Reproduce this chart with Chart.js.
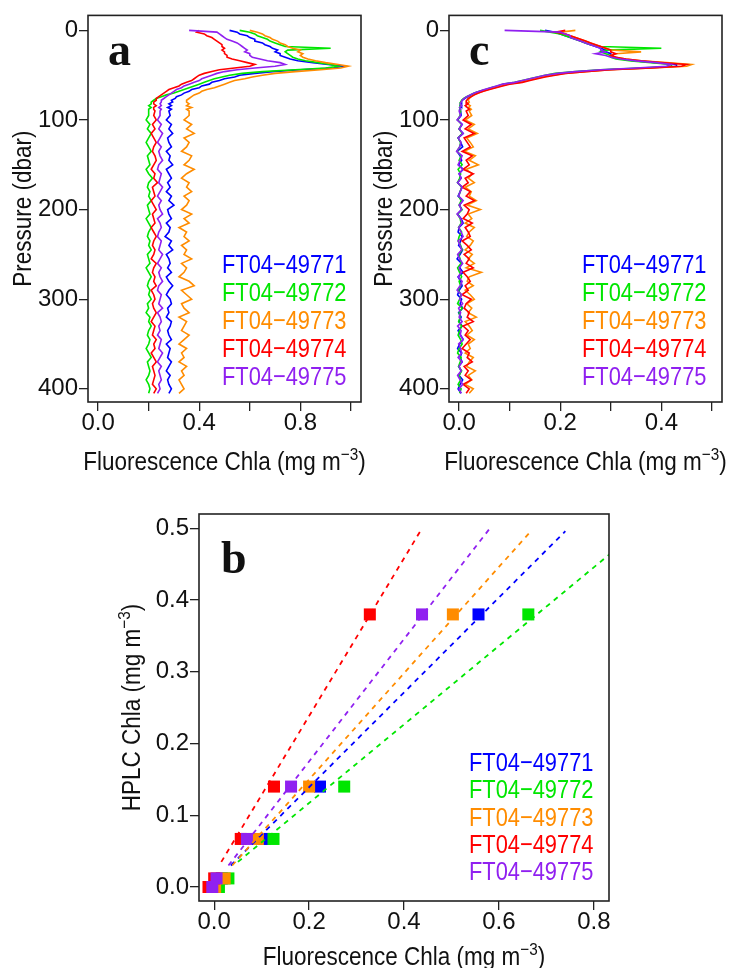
<!DOCTYPE html>
<html>
<head>
<meta charset="utf-8">
<script src="https://cdn.jsdelivr.net/npm/chart.js@4.4.0/dist/chart.umd.min.js"></script>
<style>
  html, body { margin: 0; background: #fff; }
  .panel { position: absolute; }
</style>
</head>
<body>
<div class="panel" style="left:0;top:0;width:366px;height:490px"><canvas id="chartA"></canvas></div>
<div class="panel" style="left:366px;top:0;width:366px;height:490px"><canvas id="chartC"></canvas></div>
<div class="panel" style="left:0;top:490px;width:732px;height:478px"><canvas id="chartB"></canvas></div>
<script>
// floats and their colours (same order everywhere, last one drawn on top)
const FLOATS = ['FT04\u221249771', 'FT04\u221249772', 'FT04\u221249773', 'FT04\u221249774', 'FT04\u221249775'];
const COLORS = ['#0000ff', '#00e600', '#ff8c00', '#ff0000', '#9020f0'];

// pressure levels of the profiles (dbar)
const PRESSURE = [
  0, 2, 4, 6, 8, 10, 12, 14, 16, 18, 20, 22, 24, 26, 28, 30, 32, 34, 36, 38,
  40, 42, 44, 46, 48, 50, 52, 54, 56, 58, 60, 62, 64, 66, 68, 70, 72, 74, 76, 78,
  80, 82, 84, 86, 88, 90,
  95, 100, 105, 110, 115, 120, 125, 130, 135, 140, 145, 150, 155, 160, 165, 170, 175, 180, 185, 190,
  195, 200, 205, 210, 215, 220, 225, 230, 235, 240, 245, 250, 255, 260, 265, 270, 275, 280, 285, 290,
  295, 300, 305, 310, 315, 320, 325, 330, 335, 340, 345, 350, 355, 360, 365, 370, 375, 380, 385, 390,
  395, 400, 405,
];

// (a) factory-calibrated fluorescence Chla, mg m-3
const raw71 = [
  0.52, 0.55, 0.56, 0.59, 0.60, 0.62, 0.62, 0.65, 0.66, 0.68, 0.69, 0.71, 0.70, 0.72, 0.72, 0.74, 0.76, 0.79, 0.85, 0.91,
  0.97, 0.93, 0.80, 0.69, 0.62, 0.56, 0.54, 0.50, 0.48, 0.45, 0.44, 0.41, 0.40, 0.37, 0.36, 0.34, 0.33, 0.31, 0.305, 0.29,
  0.295, 0.28, 0.29, 0.275, 0.29, 0.28,
  0.285, 0.27, 0.29, 0.28, 0.295, 0.275, 0.28, 0.29, 0.27, 0.285, 0.28, 0.295, 0.27, 0.28, 0.29, 0.275, 0.285, 0.27, 0.29, 0.28,
  0.30, 0.275, 0.28, 0.29, 0.27, 0.285, 0.28, 0.265, 0.29, 0.28, 0.295, 0.27, 0.28, 0.285, 0.275, 0.29, 0.27, 0.28, 0.295, 0.28,
  0.27, 0.285, 0.29, 0.275, 0.28, 0.27, 0.29, 0.285, 0.275, 0.28, 0.29, 0.27, 0.285, 0.28, 0.275, 0.29, 0.28, 0.27, 0.285, 0.275,
  0.28, 0.29, 0.28,
];
const raw72 = [
  0.56, 0.60, 0.62, 0.63, 0.65, 0.67, 0.68, 0.70, 0.72, 0.74, 0.92, 0.75, 0.74, 0.75, 0.76, 0.77, 0.79, 0.82, 0.87, 0.92,
  0.95, 0.90, 0.78, 0.65, 0.57, 0.52, 0.49, 0.46, 0.44, 0.42, 0.40, 0.38, 0.36, 0.34, 0.32, 0.30, 0.27, 0.25, 0.23, 0.22,
  0.21, 0.21, 0.20, 0.21, 0.20, 0.20,
  0.20, 0.19, 0.205, 0.195, 0.21, 0.20, 0.19, 0.20, 0.21, 0.195, 0.20, 0.205, 0.19, 0.20, 0.215, 0.20, 0.195, 0.205, 0.20, 0.21,
  0.195, 0.20, 0.205, 0.19, 0.20, 0.21, 0.20, 0.195, 0.205, 0.20, 0.21, 0.195, 0.20, 0.205, 0.19, 0.20, 0.21, 0.20, 0.195, 0.205,
  0.20, 0.21, 0.195, 0.20, 0.19, 0.205, 0.20, 0.21, 0.20, 0.195, 0.205, 0.20, 0.19, 0.20, 0.21, 0.195, 0.20, 0.205, 0.20, 0.19,
  0.20, 0.205, 0.20,
];
const raw73 = [
  0.60, 0.63, 0.65, 0.66, 0.68, 0.69, 0.71, 0.72, 0.74, 0.75, 0.77, 0.80, 0.79, 0.81, 0.80, 0.81, 0.83, 0.86, 0.90, 0.95,
  0.99, 0.96, 0.88, 0.78, 0.70, 0.65, 0.61, 0.58, 0.54, 0.52, 0.50, 0.48, 0.46, 0.43, 0.41, 0.40, 0.38, 0.37, 0.36, 0.35,
  0.35, 0.36, 0.35, 0.37, 0.35, 0.36,
  0.36, 0.34, 0.37, 0.35, 0.38, 0.34, 0.36, 0.35, 0.33, 0.37, 0.36, 0.34, 0.38, 0.35, 0.33, 0.36, 0.35, 0.37, 0.34, 0.36,
  0.35, 0.33, 0.37, 0.34, 0.36, 0.32, 0.35, 0.34, 0.36, 0.33, 0.35, 0.34, 0.37, 0.33, 0.35, 0.34, 0.32, 0.36, 0.38, 0.33,
  0.35, 0.37, 0.33, 0.34, 0.36, 0.32, 0.35, 0.34, 0.33, 0.36, 0.34, 0.32, 0.35, 0.33, 0.34, 0.32, 0.35, 0.33, 0.34, 0.32,
  0.33, 0.34, 0.32,
];
const raw74 = [
  0.40, 0.39, 0.42, 0.43, 0.45, 0.46, 0.47, 0.48, 0.49, 0.49, 0.50, 0.49, 0.50, 0.50, 0.51, 0.51, 0.53, 0.56, 0.59, 0.62,
  0.60, 0.54, 0.48, 0.45, 0.42, 0.40, 0.39, 0.38, 0.37, 0.35, 0.33, 0.32, 0.30, 0.28, 0.27, 0.26, 0.25, 0.24, 0.23, 0.23,
  0.22, 0.22, 0.23, 0.22, 0.22, 0.225,
  0.22, 0.23, 0.215, 0.225, 0.21, 0.22, 0.23, 0.22, 0.215, 0.225, 0.23, 0.22, 0.21, 0.225, 0.22, 0.235, 0.215, 0.22, 0.225, 0.21,
  0.22, 0.23, 0.215, 0.22, 0.225, 0.21, 0.22, 0.23, 0.22, 0.215, 0.225, 0.22, 0.21, 0.23, 0.22, 0.215, 0.225, 0.22, 0.23, 0.21,
  0.22, 0.225, 0.215, 0.22, 0.23, 0.22, 0.21, 0.225, 0.22, 0.215, 0.23, 0.22, 0.225, 0.21, 0.22, 0.23, 0.215, 0.22, 0.225, 0.22,
  0.215, 0.23, 0.22,
];
const raw75 = [
  0.36, 0.47, 0.48, 0.49, 0.50, 0.51, 0.53, 0.55, 0.56, 0.57, 0.58, 0.59, 0.58, 0.60, 0.60, 0.61, 0.64, 0.67, 0.72, 0.74,
  0.70, 0.62, 0.55, 0.50, 0.47, 0.45, 0.43, 0.41, 0.40, 0.38, 0.36, 0.34, 0.33, 0.31, 0.30, 0.29, 0.28, 0.27, 0.26, 0.25,
  0.25, 0.245, 0.25, 0.24, 0.25, 0.245,
  0.245, 0.235, 0.25, 0.24, 0.255, 0.245, 0.235, 0.25, 0.24, 0.245, 0.255, 0.24, 0.235, 0.25, 0.245, 0.24, 0.255, 0.245, 0.235, 0.25,
  0.24, 0.245, 0.255, 0.235, 0.245, 0.25, 0.24, 0.235, 0.25, 0.245, 0.24, 0.255, 0.245, 0.235, 0.25, 0.24, 0.245, 0.255, 0.24, 0.235,
  0.25, 0.245, 0.24, 0.255, 0.235, 0.245, 0.25, 0.24, 0.245, 0.235, 0.25, 0.245, 0.24, 0.255, 0.245, 0.235, 0.25, 0.24, 0.245, 0.25,
  0.24, 0.245, 0.235,
];

// (c) corrected fluorescence Chla, mg m-3
const cor71 = [
  0.17, 0.19, 0.20, 0.21, 0.22, 0.23, 0.24, 0.25, 0.26, 0.27, 0.28, 0.29, 0.29, 0.30, 0.30, 0.31, 0.32, 0.35, 0.39, 0.43,
  0.43, 0.37, 0.29, 0.24, 0.20, 0.18, 0.16, 0.145, 0.13, 0.115, 0.09, 0.08, 0.065, 0.055, 0.042, 0.032, 0.024, 0.017, 0.011, 0.006,
  0.004, 0.005, 0.002, 0.004, 0.001, 0.003,
  0.004, -0.003, 0.006, 0.0, 0.008, -0.002, 0.003, 0.007, -0.004, 0.002, 0.005, -0.001, 0.008, 0.0, 0.004, -0.003, 0.006, 0.002, -0.002, 0.007,
  0.001, 0.005, -0.003, 0.004, 0.008, 0.0, -0.002, 0.006, 0.003, -0.001, 0.007, 0.002, -0.004, 0.005, 0.001, 0.008, -0.002, 0.003, 0.006, 0.0,
  -0.003, 0.005, 0.002, 0.007, -0.001, 0.004, 0.0, 0.006, -0.002, 0.003, 0.008, 0.001, -0.003, 0.005, 0.002, 0.006, -0.001, 0.004, 0.0, 0.007,
  0.002, -0.002, 0.004,
];
const cor72 = [
  0.16, 0.18, 0.20, 0.21, 0.22, 0.23, 0.24, 0.25, 0.26, 0.28, 0.40, 0.29, 0.28, 0.29, 0.30, 0.30, 0.31, 0.34, 0.38, 0.42,
  0.42, 0.36, 0.28, 0.23, 0.19, 0.17, 0.155, 0.14, 0.125, 0.11, 0.088, 0.076, 0.063, 0.052, 0.04, 0.03, 0.022, 0.015, 0.009, 0.005,
  0.003, 0.002, 0.004, 0.001, 0.003, 0.002,
  0.002, -0.003, 0.005, 0.0, 0.006, -0.002, 0.003, 0.001, -0.004, 0.004, 0.0, 0.006, -0.002, 0.003, 0.001, -0.003, 0.005, 0.002, -0.001, 0.004,
  0.0, 0.006, -0.003, 0.002, 0.004, -0.001, 0.005, 0.0, -0.002, 0.003, 0.006, -0.001, 0.002, 0.004, -0.003, 0.001, 0.005, 0.0, 0.003, -0.002,
  0.004, 0.001, -0.003, 0.006, 0.0, 0.002, -0.001, 0.005, 0.001, -0.002, 0.003, 0.006, 0.0, -0.003, 0.004, 0.002, -0.001, 0.005, 0.0, 0.003,
  -0.002, 0.004, 0.001,
];
const cor73 = [
  0.23, 0.20, 0.21, 0.22, 0.23, 0.24, 0.25, 0.26, 0.27, 0.28, 0.29, 0.30, 0.36, 0.31, 0.30, 0.31, 0.33, 0.36, 0.41, 0.46,
  0.45, 0.38, 0.30, 0.25, 0.21, 0.185, 0.165, 0.15, 0.135, 0.12, 0.095, 0.082, 0.07, 0.058, 0.047, 0.038, 0.03, 0.024, 0.02, 0.018,
  0.02, 0.016, 0.022, 0.019, 0.024, 0.02,
  0.025, 0.012, 0.03, 0.018, 0.036, 0.015, 0.022, 0.028, 0.01, 0.032, 0.02, 0.038, 0.014, 0.026, 0.018, 0.03, 0.012, 0.024, 0.02, 0.034,
  0.016, 0.042, 0.018, 0.025, 0.012, 0.03, 0.02, 0.015, 0.028, 0.022, 0.012, 0.026, 0.018, 0.03, 0.014, 0.044, 0.02, 0.016, 0.028, 0.012,
  0.022, 0.03, 0.015, 0.025, 0.018, 0.034, 0.012, 0.02, 0.026, 0.015, 0.03, 0.018, 0.022, 0.012, 0.028, 0.02, 0.015, 0.032, 0.018, 0.025,
  0.012, 0.028, 0.02,
];
const cor74 = [
  0.21, 0.19, 0.21, 0.22, 0.23, 0.24, 0.25, 0.26, 0.27, 0.28, 0.29, 0.30, 0.30, 0.31, 0.30, 0.31, 0.33, 0.36, 0.40, 0.45,
  0.44, 0.38, 0.30, 0.25, 0.21, 0.19, 0.17, 0.155, 0.14, 0.125, 0.10, 0.086, 0.073, 0.06, 0.048, 0.038, 0.03, 0.024, 0.018, 0.015,
  0.014, 0.018, 0.012, 0.016, 0.02, 0.014,
  0.018, 0.008, 0.024, 0.012, 0.03, 0.01, 0.016, 0.022, 0.006, 0.026, 0.014, 0.02, 0.008, 0.028, 0.012, 0.018, 0.006, 0.022, 0.014, 0.03,
  0.01, 0.02, 0.016, 0.008, 0.026, 0.012, 0.018, 0.022, 0.006, 0.016, 0.024, 0.01, 0.02, 0.014, 0.028, 0.008, 0.016, 0.022, 0.012, 0.018,
  0.006, 0.024, 0.014, 0.01, 0.02, 0.016, 0.028, 0.008, 0.018, 0.012, 0.022, 0.014, 0.006, 0.02, 0.016, 0.026, 0.01, 0.018, 0.012, 0.024,
  0.008, 0.02, 0.014,
];
const cor75 = [
  0.09, 0.20, 0.21, 0.22, 0.22, 0.23, 0.24, 0.25, 0.26, 0.27, 0.28, 0.28, 0.29, 0.27, 0.29, 0.30, 0.32, 0.35, 0.39, 0.42,
  0.41, 0.35, 0.28, 0.23, 0.195, 0.17, 0.155, 0.14, 0.125, 0.11, 0.086, 0.074, 0.062, 0.05, 0.04, 0.03, 0.022, 0.015, 0.01, 0.006,
  0.004, 0.002, 0.005, 0.001, 0.003, 0.0,
  0.003, -0.004, 0.006, 0.0, 0.008, -0.002, 0.004, 0.001, -0.005, 0.006, 0.002, -0.002, 0.007, 0.0, 0.004, -0.003, 0.006, 0.002, -0.001, 0.008,
  0.0, 0.005, -0.004, 0.003, 0.006, -0.001, 0.004, 0.008, -0.002, 0.002, 0.005, -0.003, 0.001, 0.007, 0.0, 0.004, -0.002, 0.006, 0.002, -0.004,
  0.005, 0.001, 0.007, -0.001, 0.003, 0.0, 0.006, -0.003, 0.004, 0.002, 0.008, -0.001, 0.003, 0.005, -0.002, 0.006, 0.0, 0.004, -0.003, 0.002,
  0.007, 0.0, 0.004,
];

// (b) HPLC samples vs fluorescence at the same depths
const HPLC = [0.38, 0.14, 0.067, 0.012, 0.0];
const fluo71 = [0.557, 0.223, 0.106, 0.016, 0.004];
const fluo72 = [0.662, 0.274, 0.125, 0.030, 0.010];
const fluo73 = [0.503, 0.200, 0.092, 0.022, 0.002];
const fluo74 = [0.328, 0.126, 0.056, 0.000, -0.012];
const fluo75 = [0.438, 0.162, 0.069, 0.005, -0.004];
// regression lines, [fluorescence, HPLC] at each end
const fitLo = [[0.035, 0.03], [0.05, 0.035], [0.038, 0.03], [0.015, 0.035], [0.030, 0.03]];
const fitHi = [[0.740, 0.496], [0.85, 0.473], [0.666, 0.495], [0.438, 0.5], [0.581, 0.5]];

// axis ticks
const pressTicks = [0, 100, 200, 300, 400];
const pressLabels = ['0', '100', '200', '300', '400'];
const aTicks = [0, 0.2, 0.4, 0.6, 0.8, 1.0];
const aLabels = ['0.0', '', '0.4', '', '0.8', ''];
const cTicks = [0, 0.1, 0.2, 0.3, 0.4, 0.5];
const cLabels = ['0.0', '', '0.2', '', '0.4', ''];
const bxTicks = [0, 0.2, 0.4, 0.6, 0.8];
const bxLabels = ['0.0', '0.2', '0.4', '0.6', '0.8'];
const byTicks = [0, 0.1, 0.2, 0.3, 0.4, 0.5];
const byLabels = ['0.0', '0.1', '0.2', '0.3', '0.4', '0.5'];

const SANS = "'Liberation Sans', Arial, sans-serif";
const FLUO_TITLE = [{ t: 'Fluorescence Chla (mg m' }, { t: '\u22123', sup: true }, { t: ')' }];
const HPLC_TITLE = [{ t: 'HPLC Chla (mg m' }, { t: '\u22123', sup: true }, { t: ')' }];
const PRESS_TITLE = [{ t: 'Pressure (dbar)' }];

Chart.defaults.font.family = SANS;
Chart.defaults.color = '#111';
Chart.defaults.animation = false;

// text with superscripts, centred on cx, baseline at y; squeeze narrows the glyphs
function drawRich(ctx, parts, cx, y, size, squeeze) {
  const big = size + 'px ' + SANS;
  const small = Math.round(size * 0.68) + 'px ' + SANS;
  const widths = parts.map(p => { ctx.font = p.sup ? small : big; return ctx.measureText(p.t).width; });
  ctx.save();
  ctx.translate(cx, y);
  ctx.scale(squeeze, 1);
  let x = -widths.reduce((a, b) => a + b, 0) / 2;
  ctx.textAlign = 'left';
  ctx.textBaseline = 'alphabetic';
  parts.forEach((p, i) => {
    ctx.font = p.sup ? small : big;
    ctx.fillText(p.t, x, p.sup ? -size * 0.42 : 0);
    x += widths[i];
  });
  ctx.restore();
}

// frame, axis titles, panel letter and float names
const decor = {
  id: 'decor',
  afterDraw(chart, args, o) {
    const { ctx, chartArea: ca } = chart;
    ctx.save();
    ctx.strokeStyle = '#222';
    ctx.lineWidth = 1.6;
    ctx.strokeRect(ca.left, ca.top, ca.right - ca.left, ca.bottom - ca.top);

    ctx.fillStyle = '#111';
    drawRich(ctx, o.xTitle, (ca.left + ca.right) / 2, ca.bottom + o.xGap, 25, 0.9);
    ctx.save();
    ctx.translate(ca.left - o.yGap, (ca.top + ca.bottom) / 2);
    ctx.rotate(-Math.PI / 2);
    drawRich(ctx, o.yTitle, 0, 0, 25, 0.9);
    ctx.restore();

    ctx.font = "bold 46px 'Liberation Serif', 'Times New Roman', serif";
    ctx.textAlign = 'left';
    ctx.textBaseline = 'alphabetic';
    ctx.fillText(o.letter, ca.left + o.letterX, ca.top + o.letterY);

    // float names, slightly condensed
    ctx.font = '26px ' + SANS;
    ctx.textBaseline = 'middle';
    FLOATS.forEach((name, i) => {
      ctx.save();
      ctx.translate(ca.left + o.keyX, ca.top + o.keyY + i * o.keyStep);
      ctx.scale(0.84, 1);
      ctx.fillStyle = COLORS[i];
      ctx.fillText(name, 0, 0);
      ctx.restore();
    });
    ctx.restore();
  },
};

function axis(o) {
  return {
    type: 'linear', min: o.min, max: o.max, reverse: !!o.reverse,
    border: { display: false },
    grid: { drawOnChartArea: false, drawTicks: true, tickLength: 9, color: '#222', lineWidth: 1.3 },
    ticks: { autoSkip: false, maxRotation: 0, padding: o.height ? -2 : 1, color: '#111', font: { size: 24 },
             callback: (v, i) => o.labels[i] },
    afterBuildTicks: (s) => { s.ticks = o.values.map(v => ({ value: v })); },
    afterFit: (s) => { if (o.width) s.width = o.width; if (o.height) s.height = o.height; },
  };
}

function profileChart(id, series, xMin, xMax, xTicks, xLabels, yWidth, padRight, letter, keyX) {
  return new Chart(document.getElementById(id), {
    type: 'scatter',
    data: {
      datasets: series.map((vals, i) => ({
        label: FLOATS[i],
        data: vals.map((v, k) => ({ x: v, y: PRESSURE[k] })),
        showLine: true, borderColor: COLORS[i], borderWidth: 1.6,
        pointRadius: 0, tension: 0, order: 4 - i,
      })),
    },
    options: {
      responsive: true, maintainAspectRatio: false, devicePixelRatio: 1,
      layout: { padding: { top: 15, right: padRight, left: 0, bottom: 0 } },
      plugins: {
        legend: { display: false }, tooltip: { enabled: false },
        decor: { xTitle: FLUO_TITLE, yTitle: PRESS_TITLE, xGap: 68, yGap: 57,
                 letter, letterX: 20, letterY: 50, keyX, keyY: 250, keyStep: 28 },
      },
      scales: {
        x: axis({ min: xMin, max: xMax, values: xTicks, labels: xLabels, height: 88 }),
        y: axis({ min: -16.7, max: 414.7, reverse: true, values: pressTicks, labels: pressLabels, width: yWidth }),
      },
    },
    plugins: [decor],
  });
}

profileChart('chartA', [raw71, raw72, raw73, raw74, raw75], -0.04, 1.04, aTicks, aLabels, 88, 5, 'a', 134);
profileChart('chartC', [cor71, cor72, cor73, cor74, cor75], -0.02, 0.52, cTicks, cLabels, 83, 10, 'c', 133);

const fluo = [fluo71, fluo72, fluo73, fluo74, fluo75];
const samples = fluo.map((xs, i) => ({
  label: FLOATS[i],
  data: xs.map((x, k) => ({ x, y: HPLC[k] })),
  pointStyle: 'rect', pointRadius: 8.5, backgroundColor: COLORS[i], borderWidth: 0,
  order: 10 - i,
}));
const fits = fitLo.map((lo, i) => ({
  label: FLOATS[i] + ' fit',
  data: [{ x: lo[0], y: lo[1] }, { x: fitHi[i][0], y: fitHi[i][1] }],
  showLine: true, borderColor: COLORS[i], borderWidth: 1.8, borderDash: [5, 5],
  pointRadius: 0, order: 5 - i,
}));

new Chart(document.getElementById('chartB'), {
  type: 'scatter',
  data: { datasets: samples.concat(fits) },
  options: {
    responsive: true, maintainAspectRatio: false, devicePixelRatio: 1,
    layout: { padding: { top: 24, right: 123, left: 0, bottom: 0 } },
    plugins: {
      legend: { display: false }, tooltip: { enabled: false },
      decor: { xTitle: FLUO_TITLE, yTitle: HPLC_TITLE, xGap: 64, yGap: 59,
               letter: 'b', letterX: 22, letterY: 59, keyX: 270, keyY: 250, keyStep: 27.2 },
    },
    scales: {
      x: axis({ min: -0.032, max: 0.832, values: bxTicks, labels: bxLabels, height: 67 }),
      y: axis({ min: -0.0195, max: 0.52, values: byTicks, labels: byLabels, width: 199 }),
    },
  },
  plugins: [decor],
});
</script>
</body>
</html>
